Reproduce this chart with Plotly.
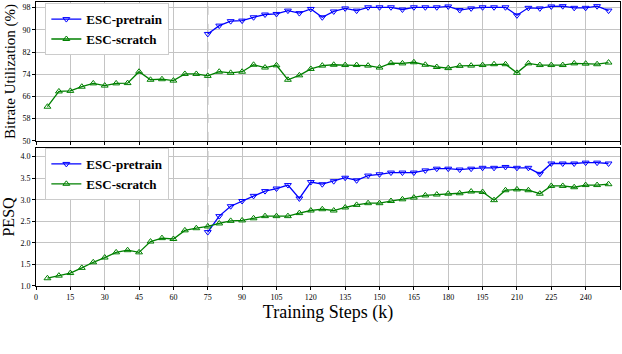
import plotly.graph_objects as go
from plotly.subplots import make_subplots

steps_scratch = list(range(5, 255, 5))
steps_pretrain = list(range(75, 255, 5))

bitrate_scratch = [62.3, 67.8, 68.0, 69.5, 70.7, 69.9, 70.7, 70.8, 74.9, 72.0,
                   72.2, 71.7, 74.1, 74.1, 73.4, 74.9, 74.5, 74.9, 77.4, 76.4,
                   77.2, 72.0, 73.6, 75.9, 77.1, 77.4, 77.3, 77.3, 77.1, 76.4,
                   78.0, 77.9, 78.3, 77.4, 76.6, 76.2, 77.0, 77.1, 77.3, 77.6,
                   77.6, 74.5, 77.9, 77.3, 77.3, 77.3, 77.9, 77.8, 77.6, 78.2]
bitrate_pretrain = [88.5, 91.5, 93.1, 93.3, 94.5, 95.5, 95.7, 96.9, 96.0, 97.5,
                    94.5, 96.6, 97.7, 96.9, 98.1, 98.1, 98.1, 97.3, 98.1, 98.1,
                    98.1, 98.4, 97.1, 97.7, 98.1, 98.1, 98.1, 95.2, 97.9, 97.7,
                    98.4, 98.5, 97.9, 97.9, 98.5, 96.9]

pesq_scratch = [1.18, 1.24, 1.30, 1.42, 1.55, 1.66, 1.78, 1.83, 1.78, 2.03,
                2.11, 2.09, 2.29, 2.34, 2.38, 2.45, 2.51, 2.52, 2.57, 2.62,
                2.62, 2.62, 2.69, 2.75, 2.78, 2.75, 2.82, 2.88, 2.92, 2.92,
                2.97, 3.01, 3.05, 3.10, 3.12, 3.14, 3.15, 3.19, 3.18, 2.99,
                3.22, 3.24, 3.22, 3.14, 3.32, 3.32, 3.29, 3.34, 3.34, 3.36]
pesq_pretrain = [2.25, 2.62, 2.85, 2.97, 3.09, 3.20, 3.26, 3.34, 3.03, 3.41,
                 3.36, 3.43, 3.51, 3.45, 3.56, 3.59, 3.63, 3.63, 3.63, 3.68,
                 3.72, 3.72, 3.70, 3.72, 3.74, 3.74, 3.76, 3.74, 3.74, 3.60,
                 3.84, 3.84, 3.84, 3.86, 3.86, 3.84]

x_ticks = list(range(0, 256, 15))
bitrate_ticks = [50, 58, 66, 74, 82, 90, 98]
pesq_ticks = [1.0, 1.5, 2.0, 2.5, 3.0, 3.5, 4.0]

BLUE = "#0000ff"
GREEN = "#008000"
FONT = "Liberation Serif"

fig = make_subplots(rows=2, cols=1, shared_xaxes=False, vertical_spacing=0.025)

def add(row, x, y, name, color, symbol, legend):
    fig.add_trace(go.Scatter(
        x=x, y=y, name=name, mode="lines+markers",
        line=dict(color=color, width=1.3),
        marker=dict(symbol=symbol, size=6, color=color,
                    line=dict(color=color, width=1)),
        legend=legend), row=row, col=1)

add(1, steps_pretrain, bitrate_pretrain, "ESC-pretrain", BLUE, "triangle-down-open", "legend")
add(1, steps_scratch, bitrate_scratch, "ESC-scratch", GREEN, "triangle-up-open", "legend")
add(2, steps_pretrain, pesq_pretrain, "ESC-pretrain", BLUE, "triangle-down-open", "legend2")
add(2, steps_scratch, pesq_scratch, "ESC-scratch", GREEN, "triangle-up-open", "legend2")

axis_common = dict(showline=True, linecolor="black", linewidth=1, mirror=True,
                   ticks="outside", ticklen=3, tickcolor="black",
                   showgrid=True, gridcolor="#c4c4c4", gridwidth=1, zeroline=False,
                   tickfont=dict(family=FONT, size=8, color="black"))

fig.update_xaxes(range=[0, 255], tickvals=x_ticks, **axis_common)
fig.update_xaxes(showticklabels=False, row=1, col=1)
fig.update_xaxes(title=dict(text="Training Steps (k)", font=dict(family=FONT, size=18, color="black"), standoff=2), row=2, col=1)
fig.update_yaxes(range=[50, 100], tickvals=bitrate_ticks, row=1, col=1,
                 title=dict(text="Bitrate Utilization (%)", font=dict(family=FONT, size=15, color="black"), standoff=3),
                 **axis_common)
fig.update_yaxes(range=[1.0, 4.2], tickvals=pesq_ticks, tickformat=".1f", row=2, col=1,
                 title=dict(text="PESQ", font=dict(family=FONT, size=16, color="black"), standoff=3),
                 **axis_common)

legend_style = dict(xanchor="left", yanchor="top",
                    bgcolor="white", bordercolor="#cccccc", borderwidth=1,
                    font=dict(family=FONT, size=13, color="black", weight="bold"),
                    tracegroupgap=0, itemwidth=30)
fig.update_layout(
    width=622, height=354,
    margin=dict(l=36, r=2, t=2, b=68, autoexpand=False),
    paper_bgcolor="white", plot_bgcolor="white",
    showlegend=True,
    legend=dict(x=0.016, y=0.996, **legend_style),
    legend2=dict(x=0.016, y=0.486, **legend_style),
)
fig.update_yaxes(domain=[0.511, 1.0], row=1, col=1)
fig.update_yaxes(domain=[0.0, 0.486], row=2, col=1)

for xref, yref in [("x", "y domain"), ("x2", "y2 domain")]:
    fig.add_shape(type="line", x0=75, x1=75, y0=0, y1=1, xref=xref, yref=yref,
                  line=dict(color="#808080", width=1, dash="dash"), layer="below")

fig.write_html("out.html", config={"displayModeBar": False},
               post_script="document.body.style.margin='0';document.body.style.padding='0';")
